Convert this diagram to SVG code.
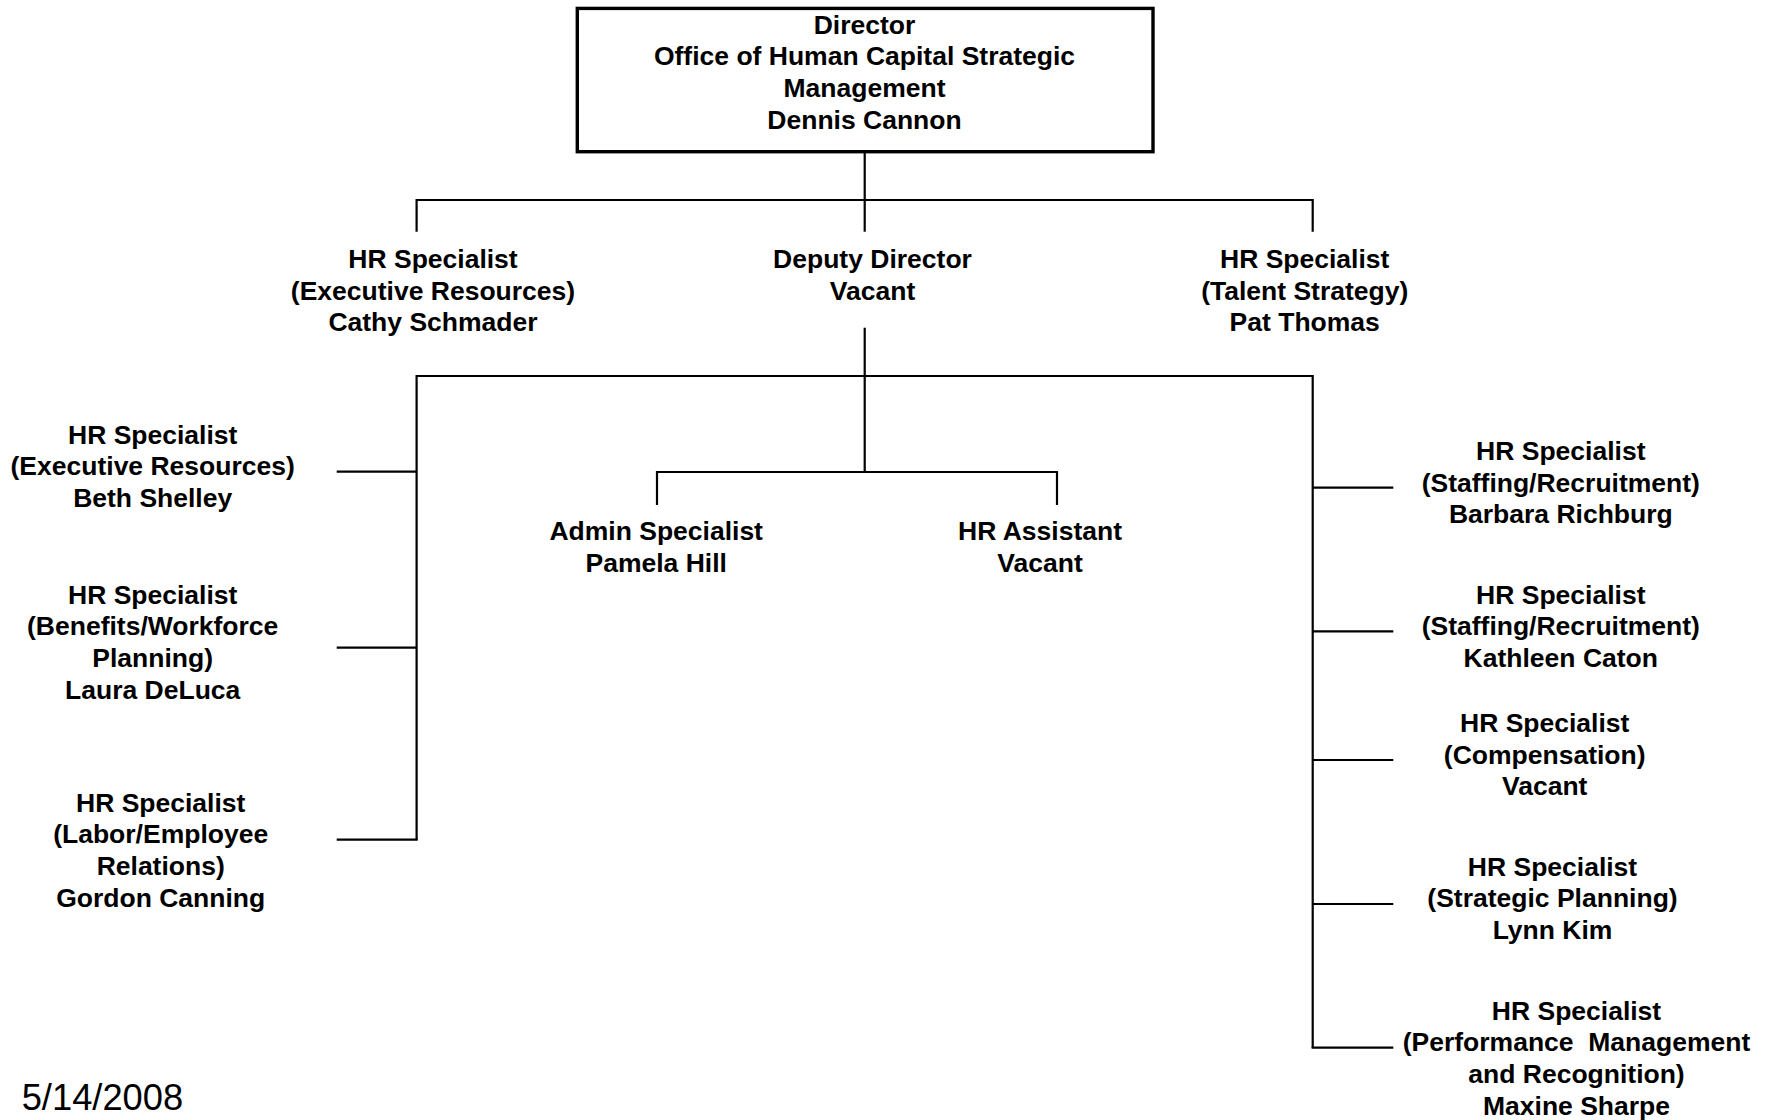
<svg xmlns="http://www.w3.org/2000/svg" width="1771" height="1120" viewBox="0 0 1771 1120">
<style>
.t{font-family:"Liberation Sans",Arial,sans-serif;font-weight:bold;font-size:26.5px;fill:#000;text-anchor:middle}
.ln{fill:none;stroke:#000;stroke-width:2.2;stroke-linecap:butt;stroke-linejoin:miter}
.box{fill:#fff;stroke:#000;stroke-width:3.4}
.date{font-family:"Liberation Sans",Arial,sans-serif;font-size:36.3px;fill:#000}
</style>
<rect width="1771" height="1120" fill="#fff"/>
<g id="connectors">
<path class="ln" d="M864.7 153 V231.7"/>
<path class="ln" d="M416.6 231.7 V200 H1312.7 V231.7"/>
<path class="ln" d="M864.7 327.7 V472"/>
<path class="ln" d="M416.6 839.7 V376 H1312.7 V1047.7"/>
<path class="ln" d="M336.7 471.7 H416.6"/>
<path class="ln" d="M336.7 647.7 H416.6"/>
<path class="ln" d="M336.7 839.7 H417.7"/>
<path class="ln" d="M1312.7 487.7 H1393.3"/>
<path class="ln" d="M1312.7 631.3 H1393.3"/>
<path class="ln" d="M1312.7 760 H1393.3"/>
<path class="ln" d="M1312.7 904 H1393.3"/>
<path class="ln" d="M1311.6 1047.7 H1393.3"/>
<path class="ln" d="M657 505 V472 H1057 V505"/>
</g>
<g id="director">
<rect class="box" x="577.3" y="8.4" width="575.7" height="143.3"/>
<text class="t" x="864.5" y="33.5">Director</text>
<text class="t" x="864.5" y="65.2">Office of Human Capital Strategic</text>
<text class="t" x="864.5" y="96.9">Management</text>
<text class="t" x="864.5" y="128.6">Dennis Cannon</text>
</g>
<g id="hr-exec-cathy">
<text class="t" x="433" y="267.7">HR Specialist</text>
<text class="t" x="433" y="299.5">(Executive Resources)</text>
<text class="t" x="433" y="331.3">Cathy Schmader</text>
</g>
<g id="deputy">
<text class="t" x="872.5" y="267.7">Deputy Director</text>
<text class="t" x="872.5" y="299.5">Vacant</text>
</g>
<g id="hr-talent">
<text class="t" x="1304.7" y="267.7">HR Specialist</text>
<text class="t" x="1304.7" y="299.5">(Talent Strategy)</text>
<text class="t" x="1304.7" y="331.3">Pat Thomas</text>
</g>
<g id="hr-exec-beth">
<text class="t" x="152.7" y="443.5">HR Specialist</text>
<text class="t" x="152.7" y="475.2">(Executive Resources)</text>
<text class="t" x="152.7" y="506.9">Beth Shelley</text>
</g>
<g id="hr-benefits">
<text class="t" x="152.7" y="603.5">HR Specialist</text>
<text class="t" x="152.7" y="635.2">(Benefits/Workforce</text>
<text class="t" x="152.7" y="666.9">Planning)</text>
<text class="t" x="152.7" y="698.6">Laura DeLuca</text>
</g>
<g id="hr-labor">
<text class="t" x="160.7" y="811.5">HR Specialist</text>
<text class="t" x="160.7" y="843.2">(Labor/Employee</text>
<text class="t" x="160.7" y="874.9">Relations)</text>
<text class="t" x="160.7" y="906.6">Gordon Canning</text>
</g>
<g id="admin">
<text class="t" x="656.2" y="540">Admin Specialist</text>
<text class="t" x="656.2" y="571.7">Pamela Hill</text>
</g>
<g id="hr-assistant">
<text class="t" x="1040" y="540">HR Assistant</text>
<text class="t" x="1040" y="571.7">Vacant</text>
</g>
<g id="hr-staffing-barbara">
<text class="t" x="1560.8" y="460">HR Specialist</text>
<text class="t" x="1560.8" y="491.7">(Staffing/Recruitment)</text>
<text class="t" x="1560.8" y="523.4">Barbara Richburg</text>
</g>
<g id="hr-staffing-kathleen">
<text class="t" x="1560.8" y="603.5">HR Specialist</text>
<text class="t" x="1560.8" y="635.2">(Staffing/Recruitment)</text>
<text class="t" x="1560.8" y="666.9">Kathleen Caton</text>
</g>
<g id="hr-compensation">
<text class="t" x="1544.7" y="732">HR Specialist</text>
<text class="t" x="1544.7" y="763.7">(Compensation)</text>
<text class="t" x="1544.7" y="795.4">Vacant</text>
</g>
<g id="hr-strategic">
<text class="t" x="1552.5" y="875.5">HR Specialist</text>
<text class="t" x="1552.5" y="907.2">(Strategic Planning)</text>
<text class="t" x="1552.5" y="938.9">Lynn Kim</text>
</g>
<g id="hr-performance">
<text class="t" x="1576.5" y="1019.5">HR Specialist</text>
<text class="t" x="1576.5" y="1051.2" xml:space="preserve" style="white-space:pre">(Performance  Management</text>
<text class="t" x="1576.5" y="1082.9">and Recognition)</text>
<text class="t" x="1576.5" y="1114.6">Maxine Sharpe</text>
</g>
<text class="date" x="21.7" y="1110">5/14/2008</text>
</svg>
